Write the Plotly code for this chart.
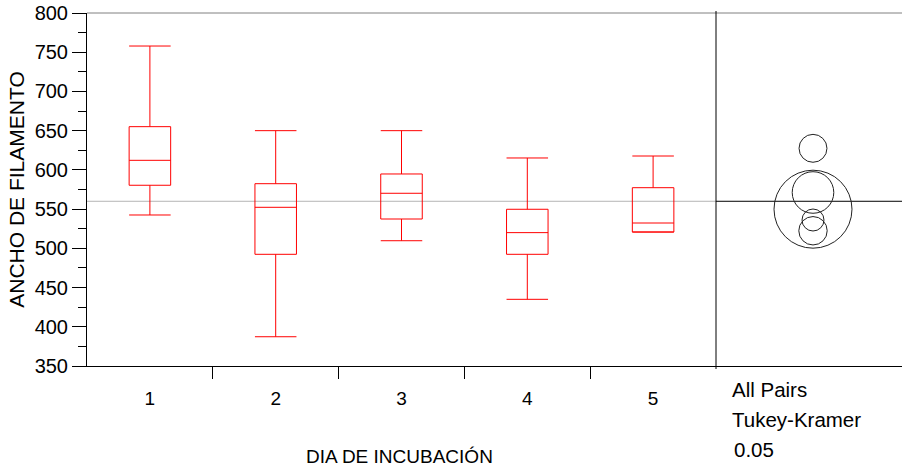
import plotly.graph_objects as go

# ---- data ----
days = ["1", "2", "3", "4", "5"]
upper_whisker = [757.9, 650.0, 650.0, 615.2, 617.7]
q3_values = [655.1, 582.4, 594.8, 549.8, 577.3]
median_values = [612.2, 552.3, 570.2, 520.0, 532.3]
q1_values = [580.4, 492.4, 537.4, 492.4, 520.8]
lower_whisker = [542.5, 387.3, 509.7, 435.0, 520.8]
grand_mean = 560.0

# comparison circles (Tukey-Kramer): centres and radii in response units
circle_centers = [627.5, 549.9, 571.2, 536.1, 522.4]
circle_radii = [17.8, 49.7, 26.5, 14.0, 18.1]

y_range = [350, 800]
y_ticks = [350, 400, 450, 500, 550, 600, 650, 700, 750, 800]
boundary_ticks = [0.5, 1.5, 2.5, 3.5]   # separators between days (category index units)

# ---- layout geometry ----
W, H = 902, 468
ML, MR, MT, MB = 87, 0, 13, 102
plot_w = W - ML - MR
plot_h = H - MT - MB
split = (716 - ML) / plot_w           # main panel / circle panel boundary (paper)
px_per_unit = plot_h / (y_range[1] - y_range[0])
panel_px = plot_w * (1 - split)
center_px = 97                          # circle centre offset inside right panel
x2_range = [-center_px / px_per_unit, (panel_px - center_px) / px_per_unit]

FONT = "Liberation Sans, Arial, sans-serif"
RED = "#ff0000"


def py(pix):
    """pixel row -> paper y"""
    return (H - MB - pix) / plot_h


def px(pix):
    return (pix - ML) / plot_w


fig = go.Figure()

fig.add_trace(go.Box(
    x=days, q1=q1_values, median=median_values, q3=q3_values,
    lowerfence=lower_whisker, upperfence=upper_whisker,
    line=dict(color=RED, width=1), fillcolor="rgba(255,255,255,0)",
    whiskerwidth=1, width=0.33, boxpoints=False, showlegend=False,
    hoverinfo="skip", xaxis="x", yaxis="y",
))

# invisible traces to activate auxiliary axes
fig.add_trace(go.Scatter(x=[0], y=[grand_mean], xaxis="x2", yaxis="y",
                         mode="markers", marker=dict(opacity=0),
                         showlegend=False, hoverinfo="skip"))
fig.add_trace(go.Scatter(x=[0], y=[grand_mean], xaxis="x3", yaxis="y",
                         mode="markers", marker=dict(opacity=0),
                         showlegend=False, hoverinfo="skip"))

shapes = []
shapes.append(dict(type="line", xref="paper", yref="y", x0=0, x1=split,
                   y0=grand_mean, y1=grand_mean,
                   line=dict(color="#b4b4b4", width=1), layer="below"))
shapes.append(dict(type="line", xref="paper", yref="y", x0=split, x1=1,
                   y0=grand_mean, y1=grand_mean,
                   line=dict(color="#000000", width=1)))
shapes.append(dict(type="line", xref="paper", yref="paper", x0=0, x1=1,
                   y0=1, y1=1, line=dict(color="#808080", width=1)))
shapes.append(dict(type="line", xref="paper", yref="paper", x0=split, x1=split,
                   y0=py(369), y1=py(11), line=dict(color="#000000", width=1)))
for c, r in zip(circle_centers, circle_radii):
    shapes.append(dict(type="circle", xref="x2", yref="y",
                       x0=-r, x1=r, y0=c - r, y1=c + r,
                       line=dict(color="#222222", width=1)))

annotations = [
    dict(text="DIA DE INCUBACIÓN", xref="paper", yref="paper",
         x=px(399), y=py(456), xanchor="center", yanchor="middle",
         showarrow=False, font=dict(size=19, color="#000", family=FONT)),
    dict(text="All Pairs", xref="paper", yref="paper", x=px(730), y=py(389),
         xanchor="left", yanchor="middle", showarrow=False,
         font=dict(size=20.5, color="#000", family=FONT)),
    dict(text="Tukey-Kramer", xref="paper", yref="paper", x=px(730), y=py(419),
         xanchor="left", yanchor="middle", showarrow=False,
         font=dict(size=20.5, color="#000", family=FONT)),
    dict(text="0.05", xref="paper", yref="paper", x=px(732), y=py(449.5),
         xanchor="left", yanchor="middle", showarrow=False,
         font=dict(size=20.5, color="#000", family=FONT)),
]

fig.update_layout(
    width=W, height=H,
    margin=dict(l=ML, r=MR, t=MT, b=MB),
    paper_bgcolor="white", plot_bgcolor="white",
    font=dict(family=FONT, color="#000", size=18),
    shapes=shapes, annotations=annotations,
    xaxis=dict(domain=[0, split], type="category", range=[-0.5, 4.5],
               ticks="", showline=True, linecolor="#000",
               linewidth=1, showgrid=False, zeroline=False,
               tickfont=dict(size=19, family=FONT), ticklabelstandoff=15,
               anchor="y"),
    xaxis3=dict(domain=[0, split], overlaying="x", range=[-0.5, 4.5],
                tickvals=boundary_ticks, ticks="outside", ticklen=12,
                tickcolor="#000", tickwidth=1, showticklabels=False,
                showline=False, showgrid=False, zeroline=False, anchor="y"),
    xaxis2=dict(domain=[split, 1], range=x2_range, showline=True,
                linecolor="#000", linewidth=1, showgrid=False, zeroline=False,
                showticklabels=False, ticks="", anchor="y"),
    yaxis=dict(range=y_range, tickvals=y_ticks, ticks="outside", ticklen=14,
               tickcolor="#000", showline=True, linecolor="#000", linewidth=1,
               showgrid=False, zeroline=False,
               minor=dict(dtick=25, tick0=350, ticks="outside", ticklen=8,
                          tickcolor="#000", showgrid=False),
               tickfont=dict(size=20, family=FONT),
               title=dict(text="ANCHO DE FILAMENTO", standoff=4,
                          font=dict(size=21, family=FONT))),
)

fig.write_html("out.html")
